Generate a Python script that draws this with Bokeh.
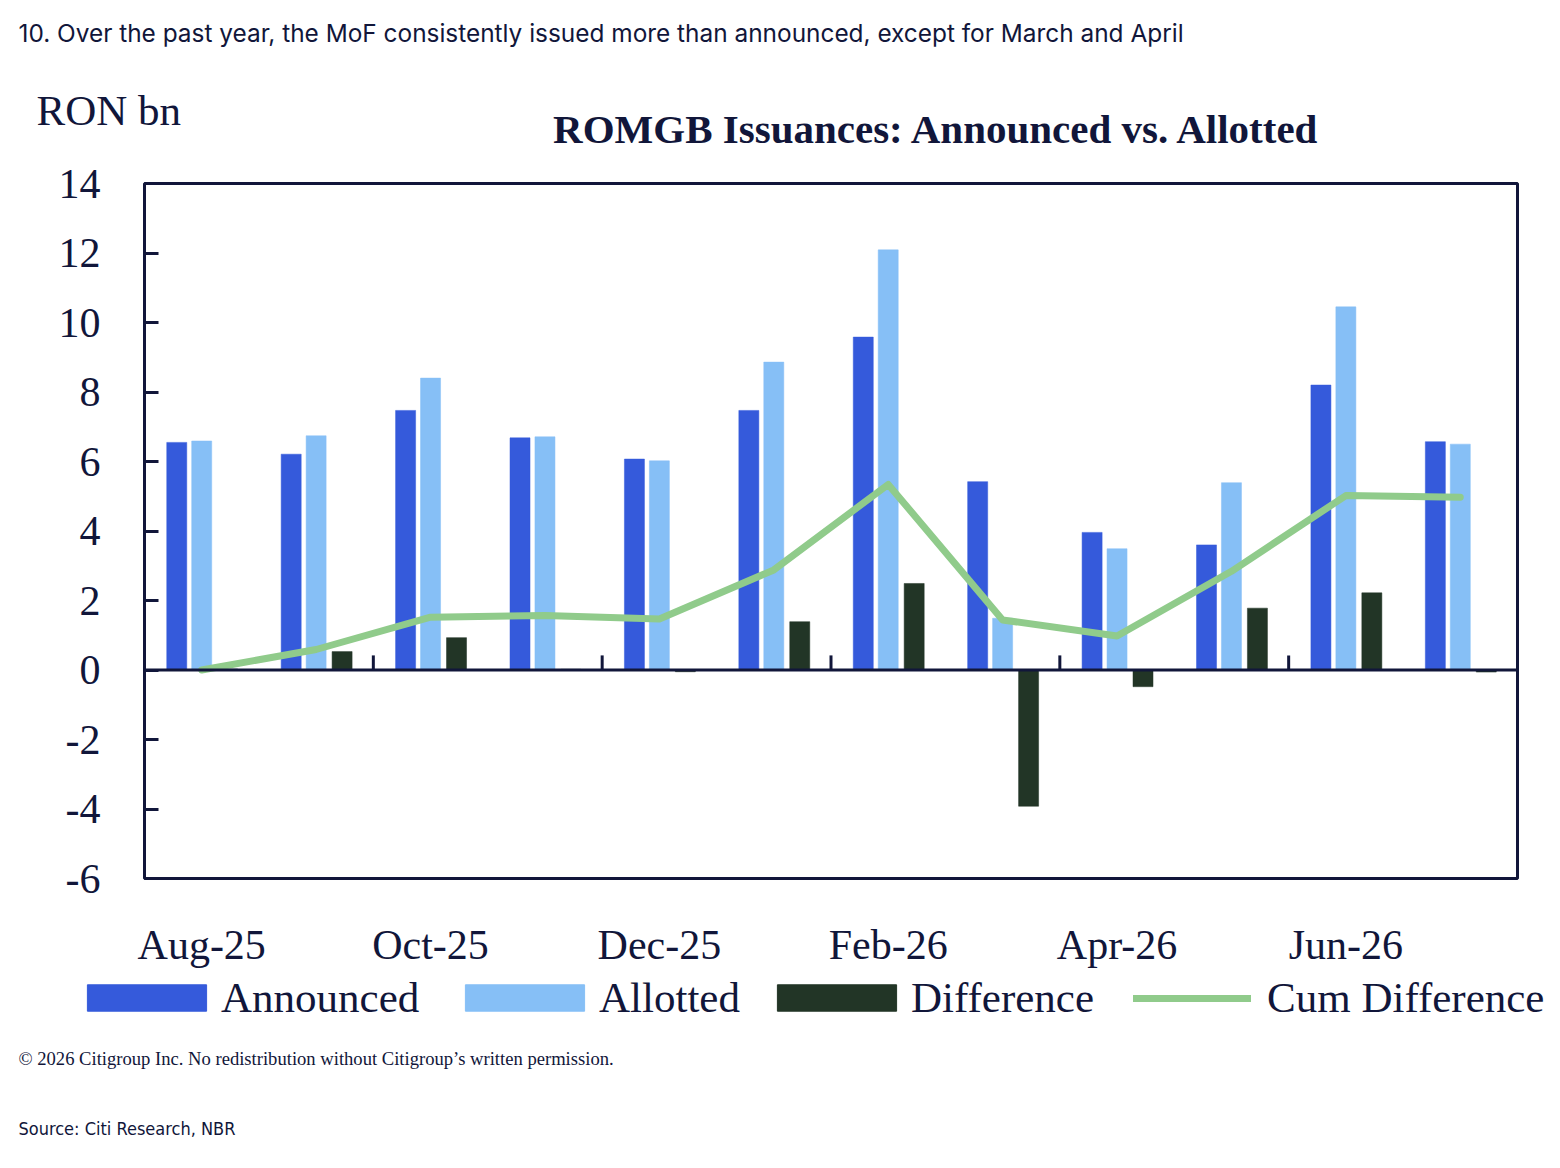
from bokeh.plotting import figure
from bokeh.layouts import column
from bokeh.models import (ColumnDataSource, FixedTicker, Label, Legend, LegendItem,
                          Span, Range1d)
from bokeh.transform import dodge
from bokeh.embed import file_html
from bokeh.resources import INLINE

# ---------------- data ----------------
months = ["Aug-25", "Sep-25", "Oct-25", "Nov-25", "Dec-25", "Jan-26",
          "Feb-26", "Mar-26", "Apr-26", "May-26", "Jun-26", "Jul-26"]
announced = [6.55, 6.21, 7.47, 6.68, 6.07, 7.47, 9.58, 5.42, 3.96, 3.60, 8.20, 6.57]
allotted = [6.59, 6.74, 8.40, 6.71, 6.02, 8.86, 12.09, 1.49, 3.49, 5.39, 10.45, 6.50]
difference = [0.03, 0.53, 0.93, 0.02, -0.05, 1.39, 2.49, -3.92, -0.48, 1.78, 2.22, -0.06]
cum_difference = [0.0, 0.59, 1.52, 1.57, 1.47, 2.88, 5.34, 1.44, 0.98, 2.84, 5.02, 4.97]
y_ticks = [-6, -4, -2, 0, 2, 4, 6, 8, 10, 12, 14]
label_idx = [0, 2, 4, 6, 8, 10]
series_names = ["Announced", "Allotted", "Difference", "Cum Difference"]

# ---------------- style ----------------
NAVY = "#11163a"
BLUE = "#355ADB"
LIGHT = "#86BFF6"
DARK = "#223526"
GREEN = "#90CB8B"
SERIF = "Liberation Serif"

W = 1552
TOP_H = 150
CHART_H = 820
BOT_H = 190
FL, FW = 144, 1373
FT, FH = 33, 695


def text_fig(h, y0):
    f = figure(width=W, height=h, x_range=Range1d(0, W), y_range=Range1d(y0 + h, y0),
               output_backend="svg", toolbar_location=None,
               x_axis_location=None, y_axis_location=None, min_border=0,
               frame_align=False)
    f.xgrid.visible = False
    f.ygrid.visible = False
    f.outline_line_color = None
    f.background_fill_color = "white"
    f.border_fill_color = "white"
    return f


# ---------------- top texts ----------------
top = text_fig(TOP_H, 0)
top.add_layout(Label(x=18, y=32, text="10. Over the past year, the MoF consistently issued more than announced, except for March and April",
                     text_font="Inter", text_font_size="24.4px", text_color=NAVY,
                     text_baseline="middle", text_align="left"))
top.add_layout(Label(x=36, y=110, text="RON bn", text_font=SERIF,
                     text_font_size="43px", text_color=NAVY,
                     text_baseline="middle", text_align="left"))
top.add_layout(Label(x=937, y=128, text="ROMGB Issuances: Announced vs. Allotted",
                     text_font=SERIF, text_font_size="41px", text_font_style="bold",
                     text_color=NAVY, text_baseline="middle", text_align="center"))

# ---------------- chart ----------------
p = figure(width=W, height=CHART_H, x_range=Range1d(-0.5, 11.5), y_range=Range1d(-6, 14),
           output_backend="svg", toolbar_location=None, frame_align=False,
           min_border_left=FL, min_border_right=W - FL - FW,
           min_border_top=FT, min_border_bottom=CHART_H - FT - FH)
p.xgrid.visible = False
p.ygrid.visible = False
p.outline_line_color = NAVY
p.outline_line_width = 3
p.background_fill_color = "white"
p.border_fill_color = "white"

source = ColumnDataSource(dict(x=list(range(len(months))), announced=announced,
                               allotted=allotted, difference=difference,
                               cum=cum_difference))

p.vbar(x=dodge("x", -0.218), top="announced", width=0.175, source=source,
       fill_color=BLUE, line_color=BLUE, line_width=0.5)
p.vbar(x="x", top="allotted", width=0.175, source=source,
       fill_color=LIGHT, line_color=LIGHT, line_width=0.5)
p.vbar(x=dodge("x", 0.227), top="difference", width=0.175, source=source,
       fill_color=DARK, line_color=DARK, line_width=0.5)

tick_x = [i - 0.5 for i in label_idx[1:]]
p.segment(x0=tick_x, y0=[0] * len(tick_x), x1=tick_x, y1=[0.42] * len(tick_x),
          line_color=NAVY, line_width=3)
p.add_layout(Span(location=0, dimension="width", line_color=NAVY, line_width=3))

p.line(x="x", y="cum", source=source, line_color=GREEN, line_width=7,
       line_cap="round", line_join="round")

p.xaxis.ticker = FixedTicker(ticks=label_idx)
p.xaxis.major_label_overrides = {i: months[i] for i in label_idx}
p.xaxis.major_tick_line_color = None
p.xaxis.minor_tick_line_color = None
p.xaxis.axis_line_color = None
p.xaxis.major_label_standoff = 37
p.xaxis.major_label_text_font = SERIF
p.xaxis.major_label_text_font_size = "42px"
p.xaxis.major_label_text_color = NAVY

p.yaxis.ticker = FixedTicker(ticks=y_ticks)
p.yaxis.major_label_overrides = {t: str(t) for t in y_ticks}
p.yaxis.major_tick_in = 14
p.yaxis.major_tick_out = 0
p.yaxis.major_tick_line_width = 3
p.yaxis.major_tick_line_color = NAVY
p.yaxis.minor_tick_line_color = None
p.yaxis.axis_line_color = None
p.yaxis.major_label_standoff = 44
p.yaxis.major_label_text_font = SERIF
p.yaxis.major_label_text_font_size = "42px"
p.yaxis.major_label_text_color = NAVY

# ---------------- legend + footer ----------------
bot = text_fig(BOT_H, TOP_H + CHART_H)
swatches = [
    bot.vbar(x="x", top="announced", width=0.175, source=source, visible=False,
             fill_color=BLUE, line_color=BLUE),
    bot.vbar(x="x", top="allotted", width=0.175, source=source, visible=False,
             fill_color=LIGHT, line_color=LIGHT),
    bot.vbar(x="x", top="difference", width=0.175, source=source, visible=False,
             fill_color=DARK, line_color=DARK),
    bot.line(x="x", y="cum", source=source, visible=False, line_color=GREEN,
             line_width=7, line_cap="round"),
]
# (x of legend box, glyph width, glyph height, label standoff)
legend_specs = [(72, 149, 33, 0), (450, 149, 33, 0), (762, 149, 33, 0),
                (1133, 118, 26, 16)]
for name, rend, (lx, gw, gh, ls) in zip(series_names, swatches, legend_specs):
    bot.add_layout(Legend(items=[LegendItem(label=name, renderers=[rend])],
                          location=(lx, 138), orientation="horizontal",
                          glyph_width=gw, glyph_height=gh, label_standoff=ls,
                          padding=0, margin=0, border_line_color=None,
                          background_fill_alpha=0, label_text_font=SERIF,
                          label_text_font_size="43px", label_text_color=NAVY))

bot.add_layout(Label(x=18, y=1058, text="\u00a9 2026 Citigroup Inc. No redistribution without Citigroup\u2019s written permission.",
                     text_font=SERIF, text_font_size="18.6px", text_color=NAVY,
                     text_baseline="middle", text_align="left"))
bot.add_layout(Label(x=18, y=1128, text="Source: Citi Research, NBR",
                     text_font="'DejaVu Sans Condensed', Roboto", text_font_size="18px",
                     text_color=NAVY, text_baseline="middle", text_align="left"))

layout = column(top, p, bot, spacing=0)
open("out.html", "w").write(file_html(layout, INLINE))
